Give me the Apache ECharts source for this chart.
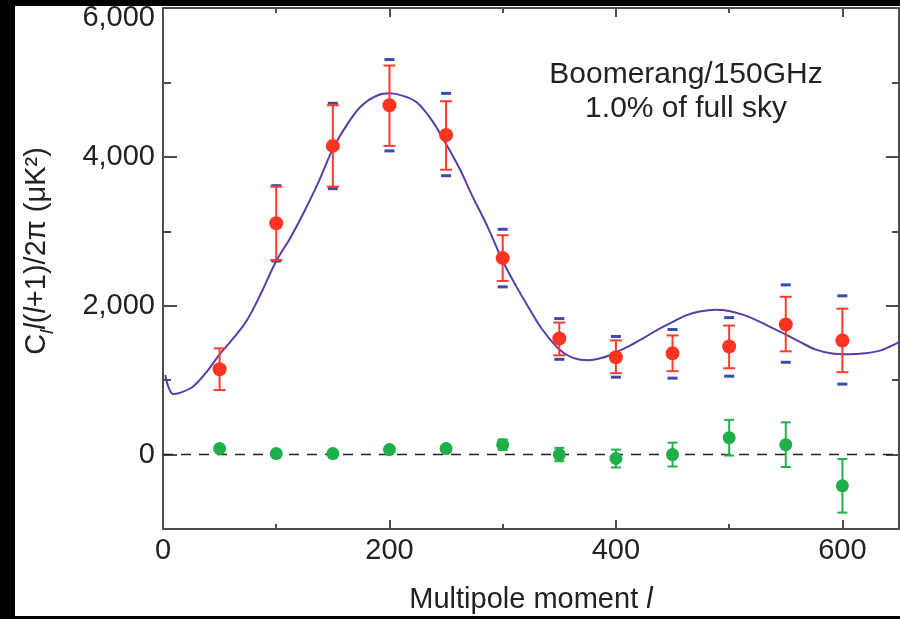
<html lang="en">
<head>
  <meta charset="utf-8">
  <title>Boomerang 150GHz power spectrum</title>
  <script src="https://cdn.jsdelivr.net/npm/echarts@6/dist/echarts.min.js"></script>
  <style>
    html, body { margin: 0; padding: 0; background: #fff; }
    #main { width: 900px; height: 619px; }
  </style>
</head>
<body>
  <div id="main"></div>
<script>
  // multipole bins
  var ell = [50, 100, 150, 200, 250, 300, 350, 400, 450, 500, 550, 600];
  // red points (total power) with statistical error bars
  var redPower = [1147, 3107, 4147, 4693, 4293, 2640, 1560, 1307, 1360, 1453, 1747, 1533];
  var redHi = [1427, 3600, 4693, 5227, 4747, 2947, 1773, 1533, 1600, 1733, 2120, 1960];
  var redLo = [867, 2613, 3600, 4147, 3827, 2333, 1333, 1093, 1120, 1160, 1387, 1107];
  // blue caps (incl. calibration error)
  var blueHi = [null, 3613, 4720, 5307, 4853, 3027, 1827, 1587, 1680, 1840, 2280, 2133];
  var blueLo = [null, 2600, 3573, 4080, 3747, 2253, 1280, 1040, 1027, 1053, 1240, 947];
  // green points (difference map) and half error
  var greenPower = [80, 13, 13, 67, 80, 133, 0, -53, 0, 227, 133, -420];
  var greenErr = [30, 30, 30, 30, 40, 70, 90, 120, 160, 240, 300, 360];
  // model curve
  var curveEll = [2, 5, 9, 15, 26, 38, 50, 62, 74, 87, 100, 112, 123, 137, 150, 162, 174, 187, 200, 212, 224, 237, 250, 262, 273, 287, 300, 312, 323, 335, 350, 362, 376, 388, 400, 412, 425, 437, 449, 462, 475, 488, 500, 512, 523, 537, 550, 563, 576, 590, 605, 620, 634, 650];
  var curvePower = [1070, 900, 813, 830, 907, 1100, 1347, 1560, 1800, 2180, 2600, 2900, 3213, 3650, 4107, 4420, 4667, 4810, 4853, 4820, 4733, 4500, 4173, 3840, 3480, 3050, 2600, 2260, 1973, 1680, 1413, 1300, 1267, 1300, 1373, 1460, 1570, 1680, 1773, 1870, 1925, 1947, 1930, 1880, 1813, 1710, 1613, 1510, 1413, 1360, 1347, 1360, 1400, 1510];

  var xMajor = [0, 200, 400, 600];
  var xMinor = [100, 300, 500];
  var yMajor = [0, 2000, 4000, 6000];
  var yMinor = [1000, 3000, 5000];

  var axisColor = '#4d4d4d';
  var textColor = '#222';
  var fontFam = 'Liberation Sans, Arial, sans-serif';

  function zip3(a, b, c) {
    var out = [];
    for (var i = 0; i < a.length; i++) {
      if (b[i] == null) continue;
      out.push([a[i], b[i], c[i]]);
    }
    return out;
  }

  // draws vertical bar + caps, or only caps
  function errRenderer(color, capHalf, lw, capsOnly) {
    return function (params, api) {
      var x = api.value(0);
      var pLo = api.coord([x, api.value(1)]);
      var pHi = api.coord([x, api.value(2)]);
      var st = { stroke: color, lineWidth: lw };
      var kids = [
        { type: 'line', shape: { x1: pLo[0] - capHalf, y1: pLo[1], x2: pLo[0] + capHalf, y2: pLo[1] }, style: st },
        { type: 'line', shape: { x1: pHi[0] - capHalf, y1: pHi[1], x2: pHi[0] + capHalf, y2: pHi[1] }, style: st }
      ];
      if (!capsOnly) {
        kids.push({ type: 'line', shape: { x1: pLo[0], y1: pLo[1], x2: pHi[0], y2: pHi[1] }, style: st });
      }
      return { type: 'group', children: kids };
    };
  }

  var greenLo = greenPower.map(function (v, i) { return v - greenErr[i]; });
  var greenHi = greenPower.map(function (v, i) { return v + greenErr[i]; });

  function tickAxis(pos, min, max, vals, len, showLine, labels) {
    return {
      type: 'value', position: pos, min: min, max: max, gridIndex: 0,
      axisLine: { show: showLine, onZero: false, lineStyle: { color: axisColor, width: 2 } },
      axisTick: { show: true, inside: true, length: len, customValues: vals, lineStyle: { color: axisColor, width: 2 } },
      axisLabel: labels || { show: false },
      splitLine: { show: false }
    };
  }

  var xLabels = {
    show: true, customValues: xMajor, fontSize: 29, color: textColor, fontFamily: fontFam, margin: 7
  };
  var yLabels = {
    show: true, customValues: yMajor, fontSize: 29, color: textColor, fontFamily: fontFam, margin: 8,
    formatter: function (v) {
      var s = v.toLocaleString('en-US');
      return v === 6000 ? '{top|' + s + '}' : s;
    },
    rich: { top: { fontSize: 29, color: textColor, fontFamily: fontFam, padding: [20, 0, 0, 0] } }
  };

  var xBottom = tickAxis('bottom', 0, 650, xMajor, 9, true, xLabels);
  xBottom.name = '{n|Multipole moment }{i|l}';
  xBottom.nameLocation = 'middle';
  xBottom.nameGap = 56;
  xBottom.nameTextStyle = {
    rich: {
      n: { fontSize: 29, color: textColor, fontFamily: fontFam },
      i: { fontSize: 29, color: textColor, fontFamily: fontFam, fontStyle: 'italic' }
    }
  };

  var chart = echarts.init(document.getElementById('main'));
  chart.setOption({
    animation: false,
    backgroundColor: '#fff',
    grid: { left: 163, right: 1, top: 8, bottom: 87, containLabel: false },
    xAxis: [
      xBottom,
      tickAxis('bottom', 0, 650, xMinor, 5, false),
      tickAxis('top', 0, 650, [200, 400, 600], 9, true),
      tickAxis('top', 0, 650, xMinor, 5, false)
    ],
    yAxis: [
      tickAxis('left', -1000, 6000, yMajor, 14, true, yLabels),
      tickAxis('left', -1000, 6000, yMinor, 8, false),
      tickAxis('right', -1000, 6000, [0, 2000, 4000], 13, true),
      tickAxis('right', -1000, 6000, yMinor, 7, false)
    ],
    graphic: [
      { type: 'rect', z: 100, shape: { x: 0, y: 0, width: 900, height: 6 }, style: { fill: '#000' } },
      { type: 'rect', z: 100, shape: { x: 0, y: 0, width: 15, height: 619 }, style: { fill: '#000' } },
      { type: 'rect', z: 100, shape: { x: 0, y: 616, width: 900, height: 3 }, style: { fill: '#000' } },
      {
        type: 'text', z: 50, x: 686, y: 92,
        style: {
          text: 'Boomerang/150GHz\n1.0% of full sky',
          font: '30px ' + fontFam, fill: textColor,
          align: 'center', verticalAlign: 'middle', lineHeight: 34
        }
      },
      {
        type: 'text', z: 50, x: 37, y: 251, rotation: Math.PI / 2,
        style: {
          text: '{n|C}{sub|l}{i|l}{n|(}{i|l}{n|+1)/2π (μK²)}',
          align: 'center', verticalAlign: 'middle',
          rich: {
            n: { fontSize: 29, fill: textColor, fontFamily: fontFam, lineHeight: 40 },
            i: { fontSize: 29, fill: textColor, fontFamily: fontFam, fontStyle: 'italic', lineHeight: 40 },
            sub: { fontSize: 19, fill: textColor, fontFamily: fontFam, fontStyle: 'italic', verticalAlign: 'bottom', lineHeight: 19 }
          }
        }
      }
    ],
    series: [
      {
        type: 'line', name: 'zero', data: [[0, 0], [650, 0]], showSymbol: false, z: 1,
        lineStyle: { color: '#222', width: 1.5, type: [10, 8] }, silent: true
      },
      {
        type: 'line', name: 'model', smooth: 0.35, showSymbol: false, z: 2,
        data: curveEll.map(function (l, i) { return [l, curvePower[i]]; }),
        lineStyle: { color: '#5a3ea8', width: 2 }, clip: true
      },
      {
        type: 'custom', name: 'calErr', z: 3,
        data: zip3(ell, blueLo, blueHi),
        encode: { x: 0, y: [1, 2] },
        renderItem: errRenderer('#3a4caa', 5, 3, true)
      },
      {
        type: 'custom', name: 'redErr', z: 4,
        data: zip3(ell, redLo, redHi),
        encode: { x: 0, y: [1, 2] },
        renderItem: errRenderer('#ff3b2e', 6, 2, false)
      },
      {
        type: 'custom', name: 'greenErr', z: 4,
        data: zip3(ell, greenLo, greenHi),
        encode: { x: 0, y: [1, 2] },
        renderItem: errRenderer('#22b14c', 5, 2, false)
      },
      {
        type: 'scatter', name: 'red', symbolSize: 14, z: 5,
        data: ell.map(function (l, i) { return [l, redPower[i]]; }),
        itemStyle: { color: '#ff3322', opacity: 1 }
      },
      {
        type: 'scatter', name: 'green', symbolSize: 13, z: 5,
        data: ell.map(function (l, i) { return [l, greenPower[i]]; }),
        itemStyle: { color: '#1fae4a', opacity: 1 }
      }
    ]
  });
</script>
</body>
</html>
